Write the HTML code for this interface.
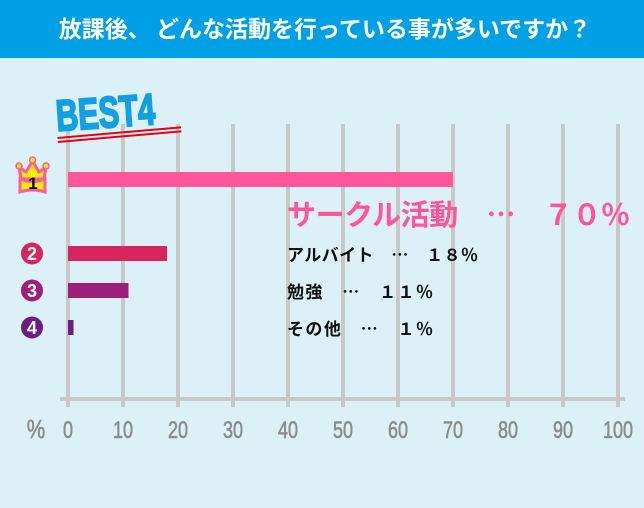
<!DOCTYPE html>
<html><head><meta charset="utf-8"><style>
body{margin:0;width:644px;height:503px;overflow:hidden;background:#dcf0f8;font-family:"Liberation Sans","Noto Sans CJK JP",sans-serif}
</style></head><body>
<svg width="644" height="503" xmlns="http://www.w3.org/2000/svg">
<rect x="0" y="0" width="644" height="58" fill="#00a0e6"/>
<text x="325" y="37" text-anchor="middle" font-size="23" font-weight="bold" fill="#fff" font-family="Noto Sans CJK JP,sans-serif">放課後、 どんな活動を行っている事が多いですか？</text>
<g id="grid"></g>
<g id="bars"></g>
<g transform="translate(57,131) rotate(-4)">
<text x="0" y="0" font-size="44" font-weight="bold" fill="#12a0e2" stroke="#12a0e2" stroke-width="2" font-family="Liberation Sans,sans-serif" transform="scale(0.7,1)">BEST4</text>
<line x1="0" y1="7" x2="124" y2="5" stroke="#e60012" stroke-width="2"/>
<line x1="0" y1="11" x2="124" y2="9" stroke="#e60012" stroke-width="2"/>
</g>
<g>
<path d="M19 167 L21 179 L44 179 L46 167 L39 172 L32.5 161 L26 172 Z" fill="#ffee00" stroke="#ff5aa0" stroke-width="3" stroke-linejoin="round"/>
<circle cx="19" cy="166" r="3" fill="#ffee00" stroke="#ff5aa0" stroke-width="1.5"/>
<circle cx="32.5" cy="160" r="3" fill="#ffee00" stroke="#ff5aa0" stroke-width="1.5"/>
<circle cx="46" cy="166" r="3" fill="#ffee00" stroke="#ff5aa0" stroke-width="1.5"/>
<path d="M20 179 Q32.5 184 45 179 L45 192 Q32.5 188 20 192 Z" fill="#ffee00" stroke="#ff5aa0" stroke-width="3"/>
<text x="33" y="189" text-anchor="middle" font-size="17" font-weight="bold" fill="#000">1</text>
</g>
<g id="labels"></g>
</svg>
<script>
const categories=["サークル活動","アルバイト","勉強","その他"];
const values=[70,18,11,1];
const valueLabels=["７０％","１８％","１１％","１％"];
const ticks=[0,10,20,30,40,50,60,70,80,90,100];
const NS="http://www.w3.org/2000/svg";
const x0=68,pxPer=5.5;
const xs=v=>x0+v*pxPer;
function el(t,a,p){const e=document.createElementNS(NS,t);for(const k in a)e.setAttribute(k,a[k]);p.appendChild(e);return e;}
const grid=document.getElementById('grid');
ticks.forEach((t,i)=>{
  const l=el('line',{x1:xs(t),x2:xs(t),y1:124,y2:407,stroke:'#c8c8c8','stroke-width':4},grid);
  
  
  const tx=el('text',{x:xs(t)/0.75,y:438,'text-anchor':'middle','font-size':24,fill:'#8c8c8c',stroke:'#8c8c8c','stroke-width':0.6,transform:'scale(0.75,1)'},grid);
  tx.textContent=t;
  
  
});
const ax=el('line',{x1:60,x2:625,y1:399,y2:399,stroke:'#c8c8c8','stroke-width':4},grid);


const pct=el('text',{x:36/0.8,y:438,'text-anchor':'middle','font-size':26,fill:'#8c8c8c',stroke:'#8c8c8c','stroke-width':0.6,transform:'scale(0.8,1)'},grid);
pct.textContent='%';


const barY=[172,246,283,320],colors=['#ff559b','#d8245f','#9c1f7c','#6a1d82'];
const labelW=[343,191,146,146];
const bars=document.getElementById('bars'),labels=document.getElementById('labels');
values.forEach((v,i)=>{
  const r=el('rect',{x:x0,y:barY[i],width:xs(v)-x0,height:15,fill:colors[i]},bars);
  
  
  if(i>0){
    const c=el('circle',{cx:32,cy:barY[i]+7.5,r:11,fill:colors[i]},bars);
    
    
    const n=el('text',{x:32,y:barY[i]+14,'text-anchor':'middle','font-size':18,'font-weight':'bold',fill:'#fff'},bars);
    n.textContent=i+1;
    
    
  }
  const t=el('text',{'font-weight':'bold','font-family':'Noto Sans CJK JP,sans-serif',lengthAdjust:'spacing'},labels);
  t.setAttribute('textLength',labelW[i]);
  if(i==0){t.setAttribute('x',287);t.setAttribute('y',225);t.setAttribute('font-size',29);t.setAttribute('fill','#ff559b');}
  else{t.setAttribute('x',287);t.setAttribute('y',barY[i]+15);t.setAttribute('font-size',17);t.setAttribute('fill','#111');}
  t.textContent=categories[i]+'　…　'+valueLabels[i];
  
  
});
</script>
</body></html>
